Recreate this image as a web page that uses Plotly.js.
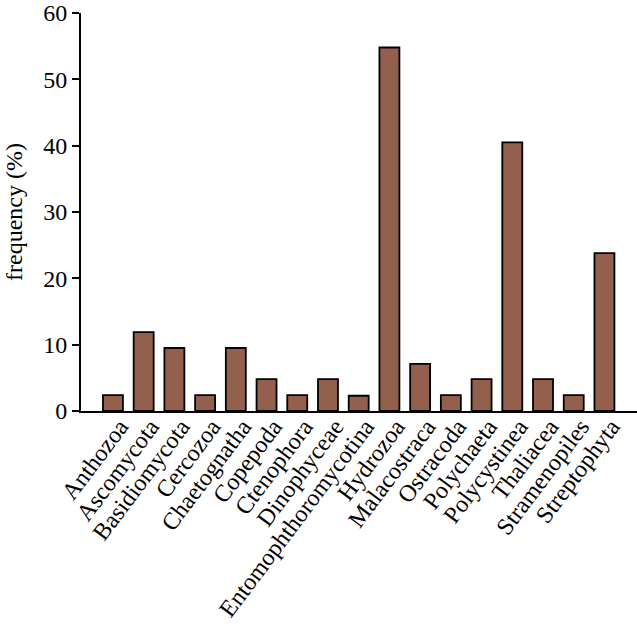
<!DOCTYPE html>
<html>
<head>
<meta charset="utf-8">
<script src="https://cdn.plot.ly/plotly-3.0.1.min.js"></script>
<style>html,body{margin:0;padding:0;background:#fff;}#chart{width:637px;height:631px;}</style>
</head>
<body>
<div id="chart"></div>
<script>
const categories = ["Anthozoa","Ascomycota","Basidiomycota","Cercozoa","Chaetognatha","Copepoda","Ctenophora","Dinophyceae","Entomophthoromycotina","Hydrozoa","Malacostraca","Ostracoda","Polychaeta","Polycystinea","Thaliacea","Stramenopiles","Streptophyta"];
const frequency = [2.4, 11.9, 9.5, 2.4, 9.5, 4.8, 2.4, 4.8, 2.3, 54.8, 7.1, 2.4, 4.8, 40.5, 4.8, 2.4, 23.8];
const yTicks = [0, 10, 20, 30, 40, 50, 60];

const font = {family: 'Liberation Serif', size: 24, color: '#000'};

Plotly.newPlot('chart', [{
  type: 'bar',
  x: categories,
  y: frequency,
  marker: {color: '#93604e', line: {color: '#000', width: 1.8}},
  hoverinfo: 'none'
}], {
  width: 637, height: 631,
  margin: {l: 81, r: 0, t: 13, b: 220},
  bargap: 0.35,
  showlegend: false,
  paper_bgcolor: '#fff', plot_bgcolor: '#fff',
  font: font,
  xaxis: {
    type: 'category',
    range: [-1.04, 17.06],
    automargin: false,
    showline: true, linecolor: '#000', linewidth: 2,
    ticks: '', showgrid: false, zeroline: false,
    tickangle: -53, tickfont: font,
    ticklabelstandoff: -10, ticklabelshift: 7
  },
  yaxis: {
    range: [0, 60],
    automargin: false,
    tickvals: yTicks,
    showline: true, linecolor: '#000', linewidth: 2,
    ticks: 'outside', ticklen: 7, tickwidth: 2, tickcolor: '#000',
    showgrid: false, zeroline: false,
    tickfont: font,
    title: {text: 'frequency (%)', font: font, standoff: 14}
  }
}, {staticPlot: true});
</script>
</body>
</html>
